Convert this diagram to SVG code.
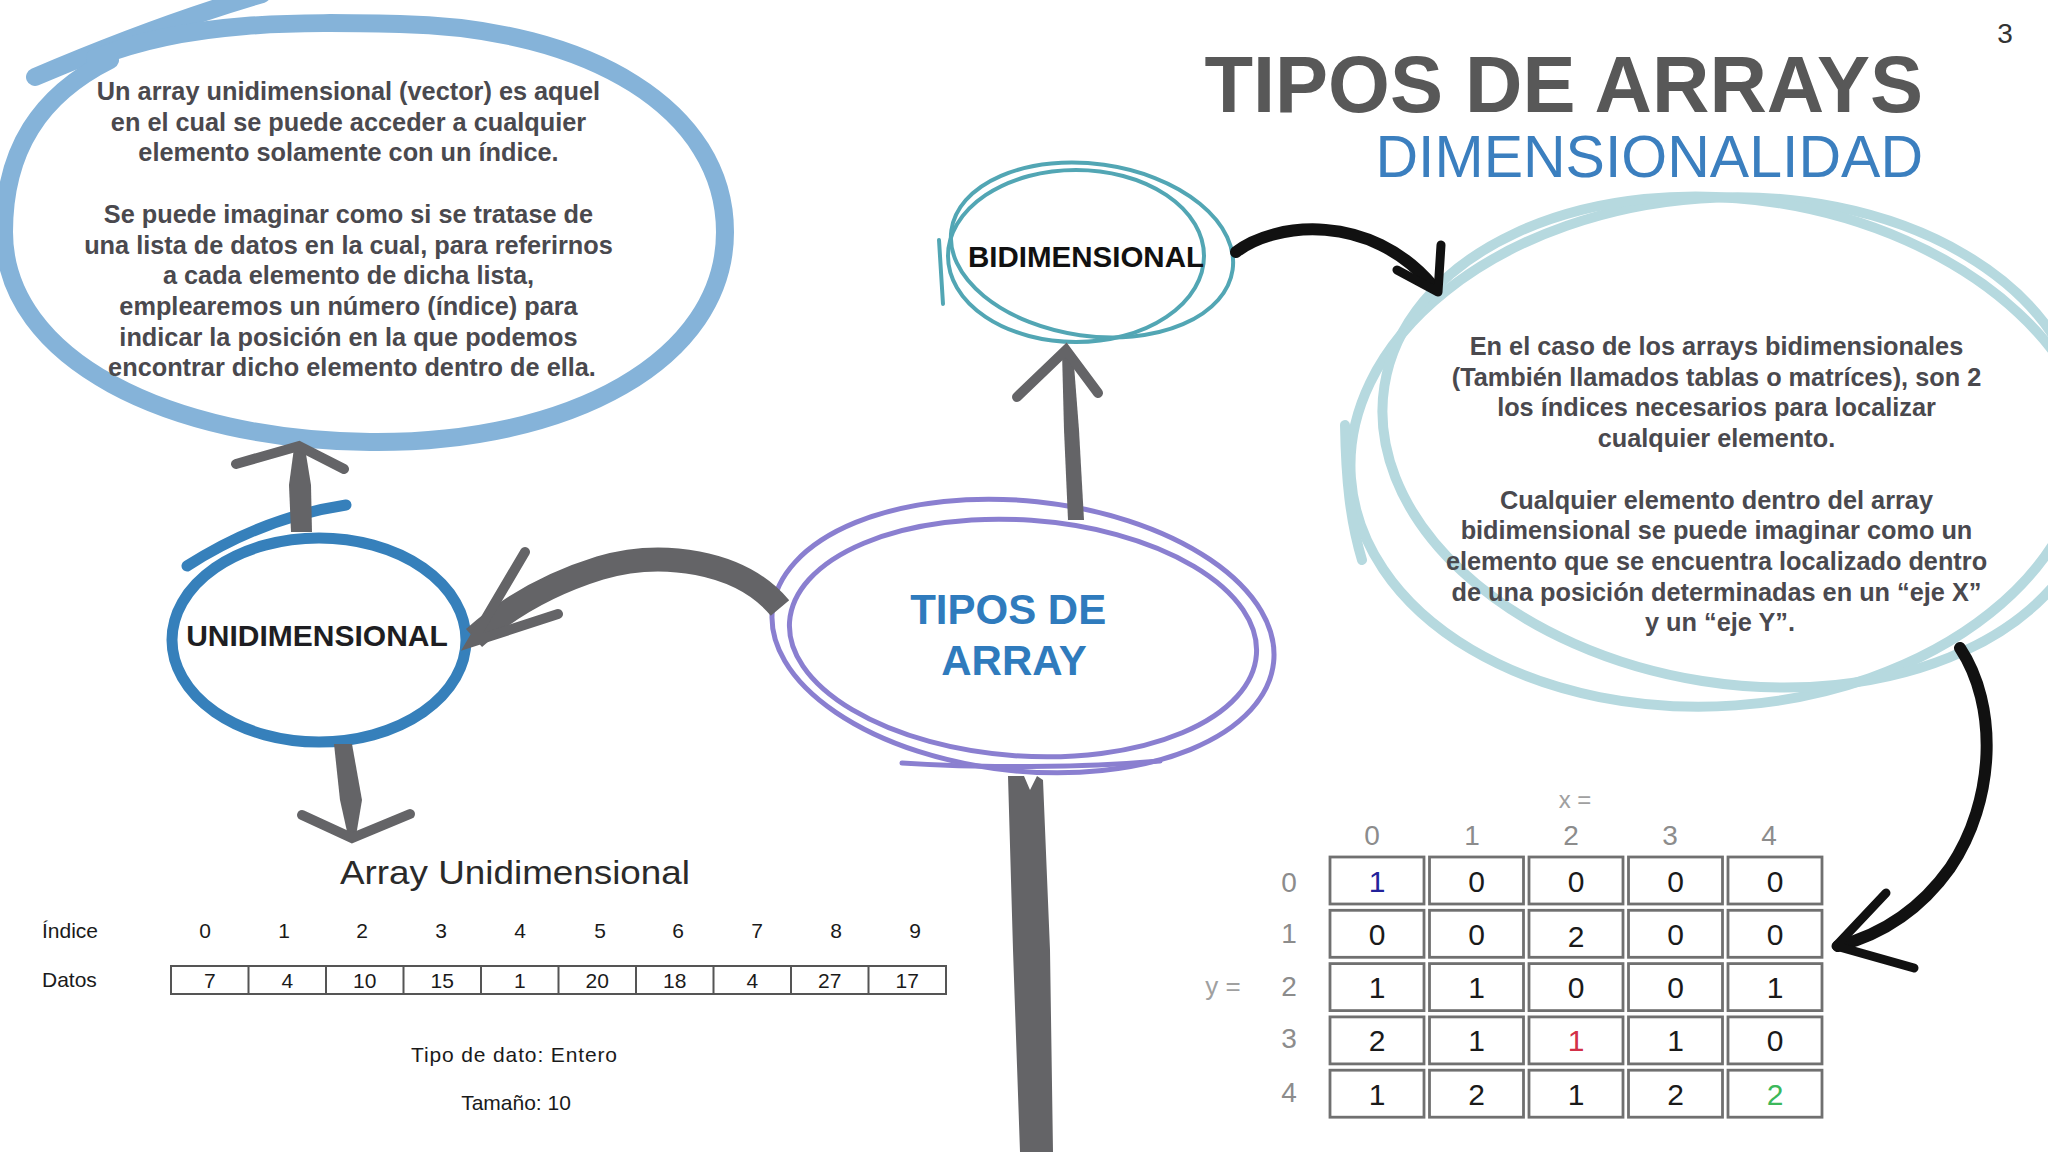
<svg xmlns="http://www.w3.org/2000/svg" width="2048" height="1152" viewBox="0 0 2048 1152">
<defs>
<style>
.desc{font-family:"Liberation Sans",Arial,sans-serif;font-weight:bold;font-size:25.3px;fill:#4a494e;text-anchor:middle}
.shaft{fill:#646467}
.band{stroke:#646467;fill:none;stroke-linecap:butt}
.barb{stroke:#646467;stroke-width:10;stroke-linecap:round;fill:none}
.blk{stroke:#111;fill:none;stroke-linecap:round;stroke-linejoin:round}
.tbl{font-family:"Liberation Sans",Arial,sans-serif;font-size:21px;fill:#1a1a1a;text-anchor:middle}
.tbll{font-family:"Liberation Sans",Arial,sans-serif;font-size:21px;fill:#1a1a1a;text-anchor:start}
.mx{font-family:"Liberation Sans",Arial,sans-serif;font-size:30px;fill:#1a1a1a;text-anchor:middle}
.mxl{font-family:"Liberation Sans",Arial,sans-serif;font-size:28px;fill:#8c8c8c;text-anchor:middle}
.cell{fill:#fff;stroke:#707070;stroke-width:2.8}
.lb{fill:none;stroke:#85b3d9;stroke-width:18;stroke-linecap:round}
.tl{fill:none;stroke:#b6d9df;stroke-width:10;stroke-linecap:round}
.bi{fill:none;stroke:#52a6b4;stroke-width:4;stroke-linecap:round}
.pu{fill:none;stroke:#8a7fd0;stroke-width:5;stroke-linecap:round}
.ub{fill:none;stroke:#3680bb;stroke-width:11;stroke-linecap:round}
</style>
</defs>
<rect width="2048" height="1152" fill="#ffffff"/>

<g id="title">
<text x="1923" y="112" font-family="'Liberation Sans',Arial,sans-serif" font-weight="bold" font-size="79.5" fill="#585858" text-anchor="end">TIPOS DE ARRAYS</text>
<text x="1923" y="177" font-family="'Liberation Sans',Arial,sans-serif" font-size="59" fill="#3b7fbf" text-anchor="end">DIMENSIONALIDAD</text>
<text x="2005" y="43" font-family="'Liberation Sans',Arial,sans-serif" font-size="28" fill="#333" text-anchor="middle">3</text>
</g>

<g id="node-unidimensional-desc">
<path class="lb" d="M35,77 C110,45 190,15 262,-6"/>
<path class="lb" d="M95,58 C190,20 300,22 400,24 C590,28 725,110 725,232 C725,360 570,444 370,442 C170,440 4,360 4,232 C4,150 40,95 110,60"/>
<text class="desc">
<tspan x="352" y="100">Un array unidimensional (vector) es aquel</tspan>
<tspan x="352" y="130.7">en el cual se puede acceder a cualquier</tspan>
<tspan x="352" y="161.4">elemento solamente con un índice.</tspan>
<tspan x="352" y="222.8">Se puede imaginar como si se tratase de</tspan>
<tspan x="352" y="253.5">una lista de datos en la cual, para referirnos</tspan>
<tspan x="352" y="284.2">a cada elemento de dicha lista,</tspan>
<tspan x="352" y="314.9">emplearemos un número (índice) para</tspan>
<tspan x="352" y="345.6">indicar la posición en la que podemos</tspan>
<tspan x="352" y="376.3">encontrar dicho elemento dentro de ella.</tspan>
</text>
</g>

<g id="node-bidimensional-desc">
<ellipse class="tl" cx="1718" cy="452" rx="368" ry="254" transform="rotate(-4 1718 452)"/>
<ellipse class="tl" cx="1740" cy="442" rx="360" ry="242" transform="rotate(9 1740 442)"/>
<path class="tl" d="M1345,425 C1346,480 1350,520 1362,560"/>
<text class="desc">
<tspan x="1720" y="355">En el caso de los arrays bidimensionales</tspan>
<tspan x="1720" y="385.7">(También llamados tablas o matríces), son 2</tspan>
<tspan x="1720" y="416.4">los índices necesarios para localizar</tspan>
<tspan x="1720" y="447.1">cualquier elemento.</tspan>
<tspan x="1720" y="508.5">Cualquier elemento dentro del array</tspan>
<tspan x="1720" y="539.2">bidimensional se puede imaginar como un</tspan>
<tspan x="1720" y="569.9">elemento que se encuentra localizado dentro</tspan>
<tspan x="1720" y="600.6">de una posición determinadas en un “eje X”</tspan>
<tspan x="1720" y="631.3">y un “eje Y”.</tspan>
</text>
</g>

<g id="node-bidimensional">
<ellipse class="bi" cx="1076" cy="256" rx="128" ry="86"/>
<ellipse class="bi" cx="1092" cy="250" rx="142" ry="86" transform="rotate(8 1092 250)"/>
<path class="bi" d="M939,240 L943,304"/>
<text x="1086" y="267" font-family="'Liberation Sans',Arial,sans-serif" font-weight="bold" font-size="29.5" fill="#111" text-anchor="middle">BIDIMENSIONAL</text>
</g>

<g id="node-tipos">
<ellipse class="pu" cx="1023" cy="636" rx="252" ry="135" transform="rotate(6 1023 636)"/>
<ellipse class="pu" cx="1023" cy="638" rx="234" ry="118" transform="rotate(4 1023 638)"/>
<path class="pu" d="M902,763 C980,768 1080,768 1160,761"/>
<text font-family="'Liberation Sans',Arial,sans-serif" font-weight="bold" font-size="42" fill="#2f7bbd" text-anchor="middle">
<tspan x="1014" y="624">TIPOS DE</tspan>
<tspan x="1014" y="675">ARRAY</tspan>
</text>
</g>

<g id="node-unidimensional">
<ellipse class="ub" cx="319" cy="640" rx="147" ry="102"/>
<path class="ub" d="M187,566 C240,532 292,513 346,505"/>
<text x="317" y="646" font-family="'Liberation Sans',Arial,sans-serif" font-weight="bold" font-size="30" fill="#1e1e22" text-anchor="middle">UNIDIMENSIONAL</text>
</g>

<g id="connectors">
<path class="shaft" d="M1068,520 L1084,520 L1079,430 L1073,352 L1062,352 L1064,430 Z"/>
<path class="barb" d="M1017,397 L1066,350 L1098,393"/>
<path class="band" stroke-width="24" d="M780,608 C740,560 660,550 600,568 C545,585 505,610 474,638"/>
<path class="barb" d="M525,552 L472,642 L558,614"/>
<path class="shaft" d="M291,532 L312,532 L311,485 L305,448 L294,448 L289,485 Z"/>
<path class="barb" d="M236,464 L299,446 L344,469"/>
<path class="shaft" d="M334,744 L352,744 L362,800 L356,836 L348,836 L340,800 Z"/>
<path class="barb" d="M302,815 L352,838 L410,814"/>
<path class="shaft" d="M1008,776 L1024,776 L1030,790 L1037,776 L1043,780 L1050,950 L1053,1152 L1020,1152 L1013,950 Z"/>
<path class="blk" stroke-width="12" d="M1236,252 C1275,222 1370,212 1432,285"/>
<path class="blk" stroke-width="9" d="M1441,245 L1438,292 L1397,270"/>
<path class="blk" stroke-width="12" d="M1960,648 C1998,705 1996,800 1950,868 C1920,910 1880,935 1838,946"/>
<path class="blk" stroke-width="9" d="M1886,893 L1836,946 L1914,968"/>
</g>

<g id="table-unidimensional">
<text x="515" y="884" font-family="'Liberation Sans',Arial,sans-serif" font-size="34" fill="#2a2a2a" text-anchor="middle" textLength="350" lengthAdjust="spacingAndGlyphs">Array Unidimensional</text>
<text class="tbll" x="42" y="938">Índice</text>
<text class="tbll" x="42" y="987">Datos</text>
<g class="tbl">
<text x="205" y="938">0</text><text x="284" y="938">1</text><text x="362" y="938">2</text><text x="441" y="938">3</text><text x="520" y="938">4</text><text x="600" y="938">5</text><text x="678" y="938">6</text><text x="757" y="938">7</text><text x="836" y="938">8</text><text x="915" y="938">9</text>
</g>
<rect x="171" y="966" width="775" height="28" fill="#fff" stroke="#555" stroke-width="2"/>
<path d="M248.5,966V994M326,966V994M403.5,966V994M481,966V994M558.5,966V994M636,966V994M713.5,966V994M791,966V994M868.5,966V994" stroke="#555" stroke-width="2"/>
<g class="tbl">
<text x="209.75" y="988">7</text><text x="287.25" y="988">4</text><text x="364.75" y="988">10</text><text x="442.25" y="988">15</text><text x="519.75" y="988">1</text><text x="597.25" y="988">20</text><text x="674.75" y="988">18</text><text x="752.25" y="988">4</text><text x="829.75" y="988">27</text><text x="907.25" y="988">17</text>
</g>
<text class="tbl" x="514" y="1062" textLength="206">Tipo de dato: Entero</text>
<text class="tbl" x="516" y="1110">Tamaño: 10</text>
</g>

<g id="matrix-bidimensional">
<text x="1575" y="808" font-family="'Liberation Sans',Arial,sans-serif" font-size="24" fill="#a0a0a0" text-anchor="middle">x =</text>
<text x="1223" y="995" font-family="'Liberation Sans',Arial,sans-serif" font-size="26" fill="#a0a0a0" text-anchor="middle">y =</text>
<g class="mxl">
<text x="1372" y="845">0</text><text x="1472" y="845">1</text><text x="1571" y="845">2</text><text x="1670" y="845">3</text><text x="1769" y="845">4</text>
<text x="1289" y="892">0</text><text x="1289" y="943">1</text><text x="1289" y="996">2</text><text x="1289" y="1048">3</text><text x="1289" y="1102">4</text>
</g>
<g>
<rect class="cell" x="1330" y="857" width="94" height="47"/><rect class="cell" x="1429.5" y="857" width="94" height="47"/><rect class="cell" x="1529" y="857" width="94" height="47"/><rect class="cell" x="1628.5" y="857" width="94" height="47"/><rect class="cell" x="1728" y="857" width="94" height="47"/>
<rect class="cell" x="1330" y="910.3" width="94" height="47"/><rect class="cell" x="1429.5" y="910.3" width="94" height="47"/><rect class="cell" x="1529" y="910.3" width="94" height="47"/><rect class="cell" x="1628.5" y="910.3" width="94" height="47"/><rect class="cell" x="1728" y="910.3" width="94" height="47"/>
<rect class="cell" x="1330" y="963.6" width="94" height="47"/><rect class="cell" x="1429.5" y="963.6" width="94" height="47"/><rect class="cell" x="1529" y="963.6" width="94" height="47"/><rect class="cell" x="1628.5" y="963.6" width="94" height="47"/><rect class="cell" x="1728" y="963.6" width="94" height="47"/>
<rect class="cell" x="1330" y="1016.9" width="94" height="47"/><rect class="cell" x="1429.5" y="1016.9" width="94" height="47"/><rect class="cell" x="1529" y="1016.9" width="94" height="47"/><rect class="cell" x="1628.5" y="1016.9" width="94" height="47"/><rect class="cell" x="1728" y="1016.9" width="94" height="47"/>
<rect class="cell" x="1330" y="1070.2" width="94" height="47"/><rect class="cell" x="1429.5" y="1070.2" width="94" height="47"/><rect class="cell" x="1529" y="1070.2" width="94" height="47"/><rect class="cell" x="1628.5" y="1070.2" width="94" height="47"/><rect class="cell" x="1728" y="1070.2" width="94" height="47"/>
</g>
<g class="mx">
<text x="1377" y="892" fill="#22229a">1</text><text x="1476.5" y="892">0</text><text x="1576" y="892">0</text><text x="1675.5" y="892">0</text><text x="1775" y="892">0</text>
<text x="1377" y="945">0</text><text x="1476.5" y="945">0</text><text x="1576" y="947">2</text><text x="1675.5" y="945">0</text><text x="1775" y="945">0</text>
<text x="1377" y="998">1</text><text x="1476.5" y="998">1</text><text x="1576" y="998">0</text><text x="1675.5" y="998">0</text><text x="1775" y="998">1</text>
<text x="1377" y="1051">2</text><text x="1476.5" y="1051">1</text><text x="1576" y="1051" fill="#d23048">1</text><text x="1675.5" y="1051">1</text><text x="1775" y="1051">0</text>
<text x="1377" y="1105">1</text><text x="1476.5" y="1105">2</text><text x="1576" y="1105">1</text><text x="1675.5" y="1105">2</text><text x="1775" y="1105" fill="#3cb85a">2</text>
</g>
</g>
</svg>
